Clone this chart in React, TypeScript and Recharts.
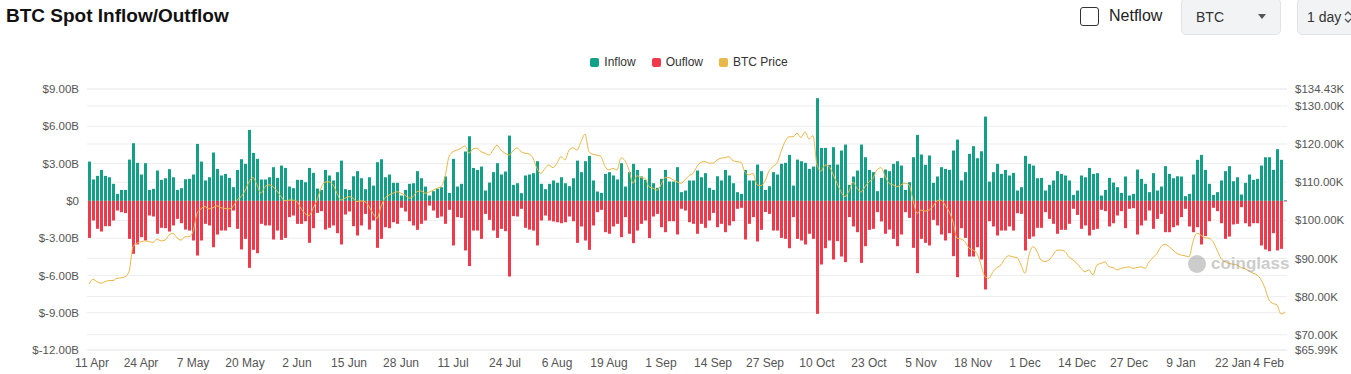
import React from 'react';
import { ComposedChart, Bar, Line, XAxis, YAxis, CartesianGrid } from 'recharts';

const START_YEAR = 2025;
const START_MONTH = 3; // April (0-based)
const START_DAY = 11;
const DAY_COUNT = 300;
const MONTH_NAMES = ['Jan', 'Feb', 'Mar', 'Apr', 'May', 'Jun', 'Jul', 'Aug', 'Sep', 'Oct', 'Nov', 'Dec'];

const categories: string[] = Array.from({ length: DAY_COUNT }, (_, i) => {
  const d = new Date(Date.UTC(START_YEAR, START_MONTH, START_DAY + i));
  return `${d.getUTCDate()} ${MONTH_NAMES[d.getUTCMonth()]}`;
});

// Spot inflow, $B per day
const inflow: number[] = [
  3.16, 1.72, 2.01, 2.49, 2.01, 1.90, 1.37, 0.56, 0.88, 0.88, 3.32, 4.64, 3.06, 2.12, 3.03, 0.88, 0.97, 2.44, 1.69, 1.82, 2.55, 1.90, 0.88, 1.02, 1.74,
  1.77, 2.12, 4.58, 3.16, 1.64, 1.90, 3.89, 2.57, 2.04, 2.17, 1.85, 1.10, 2.49, 3.35, 2.98, 5.71, 3.86, 3.38, 1.72, 1.72, 1.90, 2.71, 1.85, 2.84, 2.65,
  1.15, 1.02, 1.69, 1.69, 1.50, 2.65, 2.25, 0.99, 0.88, 2.49, 2.04, 1.64, 2.31, 3.24, 0.94, 0.88, 1.98, 2.39, 1.82, 0.94, 1.90, 1.23, 3.11, 3.35, 1.90,
  2.12, 1.45, 1.45, 0.43, 0.88, 1.37, 1.42, 2.39, 1.82, 1.15, 0.43, 0.78, 0.97, 1.10, 1.96, 0.64, 3.38, 1.15, 1.37, 3.97, 5.20, 2.65, 2.49, 2.76, 0.83,
  1.47, 2.31, 3.03, 2.12, 2.36, 5.25, 1.29, 1.42, 0.62, 2.04, 2.12, 2.23, 3.19, 1.37, 0.94, 1.37, 1.64, 1.45, 1.90, 1.42, 1.18, 1.82, 3.24, 2.31, 3.19,
  3.62, 1.64, 0.75, 0.64, 2.17, 2.31, 2.04, 1.72, 3.03, 1.15, 2.31, 2.98, 2.49, 1.96, 1.69, 2.63, 1.42, 1.05, 1.77, 2.49, 1.55, 1.55, 2.71, 0.70, 0.83,
  1.64, 1.64, 2.44, 1.90, 2.23, 1.05, 0.88, 1.98, 1.64, 2.49, 2.04, 1.42, 0.70, 0.56, 2.49, 1.64, 1.64, 2.92, 2.39, 0.88, 1.18, 2.31, 2.12, 2.98, 3.06,
  3.70, 1.23, 3.32, 3.19, 3.06, 2.57, 2.76, 8.26, 4.26, 4.26, 2.90, 4.32, 2.92, 4.05, 4.53, 1.29, 1.96, 2.44, 4.53, 3.51, 2.49, 2.31, 0.78, 1.85, 2.52,
  2.39, 2.98, 3.19, 2.84, 0.88, 1.50, 3.51, 5.31, 3.73, 2.90, 3.65, 1.45, 1.96, 2.71, 2.57, 2.49, 4.05, 4.93, 1.64, 2.31, 3.78, 4.40, 3.43, 3.99, 6.78,
  1.55, 2.31, 2.98, 2.17, 2.49, 2.04, 2.25, 0.83, 1.10, 3.62, 2.98, 2.84, 1.82, 1.85, 0.83, 1.29, 1.64, 2.39, 2.17, 2.04, 1.64, 0.48, 0.83, 2.04, 1.90,
  2.65, 2.17, 2.23, 0.43, 0.88, 1.85, 1.47, 1.10, 0.64, 1.96, 0.43, 0.56, 2.52, 1.77, 1.37, 0.70, 2.23, 0.83, 1.15, 2.79, 2.17, 1.82, 1.98, 1.96, 0.38,
  0.56, 2.12, 3.30, 3.70, 2.49, 1.37, 0.48, 0.70, 1.64, 2.39, 2.79, 1.58, 1.90, 0.51, 1.45, 2.12, 1.69, 1.77, 2.84, 3.51, 3.51, 2.49, 4.16, 3.30, 0.05,
];

// Spot outflow, $B per day (drawn below zero)
const outflow: number[] = [
  2.98, 1.58, 2.25, 2.47, 2.04, 2.04, 1.58, 0.78, 0.91, 0.99, 3.06, 4.26, 3.51, 2.92, 3.19, 1.18, 1.26, 2.65, 2.17, 2.20, 2.47, 1.98, 1.45, 1.80, 2.31,
  2.39, 3.19, 4.40, 3.19, 1.85, 1.98, 3.73, 2.71, 2.39, 2.39, 2.12, 0.78, 2.25, 3.91, 3.06, 5.39, 3.94, 4.21, 1.85, 1.98, 1.98, 3.11, 2.39, 3.14, 2.98,
  1.31, 1.18, 1.85, 1.85, 1.64, 3.38, 2.20, 0.97, 0.83, 2.31, 2.17, 1.98, 2.60, 3.51, 1.10, 0.86, 2.04, 2.79, 1.98, 1.05, 2.31, 1.58, 3.78, 3.06, 2.12,
  2.20, 1.72, 1.85, 0.56, 0.86, 1.64, 1.98, 2.33, 1.85, 1.58, 0.38, 0.78, 1.37, 1.26, 1.85, 0.72, 3.59, 1.31, 1.37, 3.99, 5.25, 2.39, 2.39, 3.06, 1.05,
  1.53, 2.39, 2.98, 2.25, 2.44, 6.09, 1.23, 1.26, 0.64, 2.17, 2.31, 2.39, 3.59, 1.58, 1.18, 1.58, 1.66, 1.72, 1.80, 1.72, 1.26, 1.64, 3.38, 2.06, 3.19,
  3.94, 1.98, 0.91, 0.72, 2.52, 2.65, 2.06, 1.85, 2.92, 1.31, 2.65, 3.40, 2.39, 1.85, 1.58, 3.00, 1.26, 1.05, 2.12, 2.52, 1.64, 1.64, 2.71, 0.64, 0.78,
  1.72, 1.85, 2.65, 1.85, 2.17, 1.58, 0.97, 2.12, 1.85, 2.52, 1.98, 1.64, 0.64, 0.56, 3.11, 1.85, 1.31, 3.27, 2.33, 0.90, 1.05, 2.39, 2.39, 2.98, 3.06,
  3.81, 1.31, 3.06, 3.19, 3.51, 2.65, 3.06, 9.09, 5.12, 3.81, 3.19, 4.72, 3.24, 4.48, 4.93, 1.31, 2.06, 2.52, 4.99, 3.65, 2.33, 2.25, 0.91, 1.66, 2.65,
  2.31, 3.06, 3.65, 2.71, 0.91, 1.37, 3.78, 5.82, 3.06, 3.38, 3.59, 1.53, 1.98, 2.71, 3.19, 2.60, 4.45, 6.14, 2.20, 2.98, 4.48, 4.48, 3.73, 4.72, 7.13,
  1.64, 2.06, 2.79, 2.39, 2.39, 2.06, 2.39, 0.99, 1.05, 3.99, 3.06, 2.87, 2.17, 2.17, 0.91, 1.45, 1.85, 2.65, 2.33, 2.33, 1.85, 0.64, 1.13, 2.25, 1.98,
  2.79, 2.33, 2.25, 0.72, 0.83, 2.06, 1.80, 1.18, 0.83, 2.20, 0.64, 0.59, 2.71, 1.98, 1.58, 0.78, 2.25, 1.45, 1.05, 2.52, 2.52, 2.12, 1.98, 1.31, 0.64,
  2.06, 2.52, 2.12, 3.51, 2.84, 1.64, 0.56, 0.83, 1.80, 3.06, 2.87, 1.90, 1.85, 0.51, 1.80, 2.06, 1.80, 1.80, 3.59, 3.91, 4.05, 2.60, 3.99, 3.86, 0.05,
];

// BTC price, $K
const btcPrice: number[] = [
  83.3, 84.5, 83.9, 83.5, 83.9, 84.2, 84.2, 84.8, 84.9, 85.2, 86.5, 93.1, 94.0, 94.4, 94.6, 94.4, 94.2, 95.1, 94.6, 94.8, 96.1, 96.6, 95.4, 94.8, 95.7,
  95.7, 97.0, 101.8, 103.0, 103.6, 103.0, 103.3, 103.8, 103.3, 103.1, 103.0, 103.6, 105.3, 106.2, 107.7, 110.1, 111.2, 109.3, 107.1, 108.8, 109.3, 108.8, 107.7, 106.2, 105.1,
  105.3, 105.3, 104.9, 103.1, 101.8, 101.2, 103.1, 105.3, 108.4, 110.0, 110.1, 109.3, 107.1, 105.3, 105.8, 106.2, 105.8, 104.9, 105.1, 104.9, 103.6, 101.8, 100.5, 103.6, 105.8,
  106.6, 107.1, 107.5, 107.1, 106.6, 105.8, 106.2, 107.5, 107.7, 107.1, 107.4, 107.9, 108.4, 108.8, 111.4, 116.7, 118.0, 118.4, 118.9, 119.5, 117.6, 118.7, 118.9, 118.0, 117.6,
  117.1, 118.4, 119.7, 118.4, 117.6, 117.1, 118.2, 119.0, 118.0, 117.6, 117.4, 116.3, 113.6, 112.3, 113.6, 114.5, 113.8, 115.0, 116.7, 115.8, 118.4, 119.0, 118.4, 120.6, 122.6,
  118.0, 117.3, 117.1, 116.7, 114.1, 113.2, 113.6, 113.2, 116.4, 115.6, 113.2, 109.7, 111.7, 111.2, 111.0, 108.8, 108.4, 107.9, 109.3, 111.2, 111.2, 110.6, 110.1, 109.7, 110.6,
  111.7, 112.3, 114.1, 115.2, 115.4, 115.0, 115.0, 115.8, 116.3, 116.4, 116.7, 115.6, 115.4, 115.2, 112.6, 111.9, 112.3, 109.3, 109.1, 110.3, 112.9, 114.1, 115.0, 118.0, 120.6,
  121.9, 121.9, 122.8, 121.7, 123.2, 121.3, 122.2, 114.5, 112.9, 114.5, 114.1, 112.1, 109.7, 107.5, 106.2, 107.7, 110.0, 108.4, 107.4, 108.8, 110.1, 111.0, 113.2, 113.8, 111.7,
  109.7, 109.3, 108.8, 109.3, 109.7, 109.3, 105.3, 101.8, 102.7, 102.4, 102.7, 103.6, 105.1, 105.3, 104.0, 102.3, 99.6, 95.3, 95.1, 94.4, 92.7, 92.2, 91.3, 88.3, 85.2,
  84.8, 86.5, 87.6, 88.3, 90.0, 90.7, 90.4, 90.2, 88.3, 86.1, 90.9, 93.1, 91.8, 89.6, 89.2, 89.6, 90.9, 92.2, 92.2, 91.8, 90.4, 89.6, 88.7, 87.4, 86.5,
  87.0, 85.7, 88.3, 88.7, 89.1, 87.8, 87.6, 87.0, 87.4, 87.6, 87.8, 87.4, 87.6, 87.8, 87.4, 89.1, 90.2, 91.3, 93.1, 93.7, 93.1, 92.2, 91.3, 90.9, 90.7,
  90.4, 94.4, 96.6, 96.1, 95.4, 95.3, 94.4, 92.2, 90.0, 89.1, 88.7, 88.5, 88.3, 87.6, 87.3, 86.7, 86.1, 85.7, 84.4, 82.2, 79.1, 78.2, 77.8, 75.4, 76.0,
];

const LEFT_TICKS = [-12, -9, -6, -3, 0, 3, 6, 9];
const RIGHT_TICKS = [65.99, 70, 80, 90, 100, 110, 120, 130, 134.43];

const data = categories.map((date, i) => ({
  date,
  inflow: inflow[i],
  outflow: -outflow[i],
  price: btcPrice[i],
}));

const FONT = '"Liberation Sans", Arial, sans-serif';
const C_IN = '#12a186';
const C_OUT = '#f1394c';
const C_PRICE = '#e8b94a';

const XTick = (props: any) => {
  const { x, y, payload } = props;
  const last = payload.value === categories[categories.length - 1];
  const first = payload.value === categories[0];
  return (
    <text
      x={first ? x + 3 : last ? x - 1 : x}
      y={y}
      dy="0.71em"
      textAnchor={last ? 'end' : 'middle'}
      fontSize={12}
      fill="#555"
      fontFamily={FONT}
    >
      {payload.value}
    </text>
  );
};

const LegendItem = ({ color, label }: { color: string; label: string }) => (
  <div style={{ display: 'flex', alignItems: 'center', marginRight: 16 }}>
    <span style={{ width: 9, height: 9, background: color, borderRadius: 2, display: 'inline-block', marginRight: 5 }} />
    <span style={{ fontSize: 12, color: '#333' }}>{label}</span>
  </div>
);

export default function App() {
  return (
    <div style={{ position: 'fixed', left: 0, top: 0, width: 1351, height: 374, background: '#fff', fontFamily: FONT, overflow: 'hidden' }}>
      <ComposedChart
        width={1351}
        height={374}
        data={data}
        stackOffset="sign"
        barCategoryGap={0}
        margin={{ top: 89, right: 0, bottom: 0, left: 0 }}
      >
        <CartesianGrid yAxisId="left" vertical={false} stroke="#ededed" />
        <CartesianGrid yAxisId="right" vertical={false} stroke="#ededed" />
        <XAxis dataKey="date" interval={12} tickLine={false} axisLine={false} height={24} tick={<XTick />} />
        <YAxis
          yAxisId="left"
          orientation="left"
          width={87}
          domain={[-12, 9]}
          ticks={LEFT_TICKS}
          interval={0}
          allowDataOverflow
          tickLine={false}
          axisLine={false}
          tick={{ fontSize: 11.5, fill: '#555', fontFamily: FONT }}
          tickFormatter={(v: number) => (v === 0 ? '$0' : `$${v.toFixed(2)}B`)}
        />
        <YAxis
          yAxisId="right"
          orientation="right"
          width={64}
          domain={[65.99, 134.43]}
          ticks={RIGHT_TICKS}
          interval={0}
          allowDataOverflow
          tickLine={false}
          axisLine={false}
          tick={{ fontSize: 11.5, fill: '#555', fontFamily: FONT }}
          tickFormatter={(v: number) => `$${v.toFixed(2)}K`}
        />
        <Bar yAxisId="left" dataKey="inflow" stackId="flow" fill={C_IN} barSize={3} isAnimationActive={false} />
        <Bar yAxisId="left" dataKey="outflow" stackId="flow" fill={C_OUT} barSize={3} isAnimationActive={false} />
        <Line yAxisId="right" dataKey="price" type="monotone" stroke={C_PRICE} strokeWidth={1} dot={false} isAnimationActive={false} />
      </ComposedChart>

      {/* header */}
      <div style={{ position: 'absolute', left: 6, top: 5, fontSize: 19, fontWeight: 700, color: '#111' }}>BTC Spot Inflow/Outflow</div>
      <div style={{ position: 'absolute', left: 1080, top: 7, width: 17, height: 17, border: '1.5px solid #333', borderRadius: 3 }} />
      <div style={{ position: 'absolute', left: 1109, top: 7, fontSize: 16, color: '#222' }}>Netflow</div>
      <div style={{ position: 'absolute', left: 1181, top: -2, width: 98, height: 35, background: '#f2f3f5', border: '1px solid #e1e3e6', borderRadius: 5 }}>
        <span style={{ position: 'absolute', left: 14, top: 10, fontSize: 14, color: '#333' }}>BTC</span>
        <span style={{ position: 'absolute', left: 76, top: 15, width: 0, height: 0, borderLeft: '4px solid transparent', borderRight: '4px solid transparent', borderTop: '5px solid #555' }} />
      </div>
      <div style={{ position: 'absolute', left: 1297, top: -2, width: 70, height: 35, background: '#f2f3f5', border: '1px solid #e1e3e6', borderRadius: 5 }}>
        <span style={{ position: 'absolute', left: 9, top: 10, fontSize: 14, color: '#333' }}>1 day</span>
        <svg style={{ position: 'absolute', left: 45, top: 11 }} width={10} height={14} viewBox="0 0 10 14">
          <path d="M2 5 L5 2 L8 5" fill="none" stroke="#555" strokeWidth={1.3} />
          <path d="M2 9 L5 12 L8 9" fill="none" stroke="#555" strokeWidth={1.3} />
        </svg>
      </div>

      {/* legend */}
      <div style={{ position: 'absolute', left: 11, width: 1372, top: 55, display: 'flex', justifyContent: 'center' }}>
        <LegendItem color={C_IN} label="Inflow" />
        <LegendItem color={C_OUT} label="Ouflow" />
        <LegendItem color={C_PRICE} label="BTC Price" />
      </div>

      {/* watermark */}
      <div style={{ position: 'absolute', left: 1188, top: 254, display: 'flex', alignItems: 'center', opacity: 0.5 }}>
        <span style={{ width: 18, height: 18, borderRadius: 9, background: '#9a9a9a', display: 'inline-block', marginRight: 5 }} />
        <span style={{ fontSize: 17, fontWeight: 700, color: '#9a9a9a' }}>coinglass</span>
      </div>
    </div>
  );
}
